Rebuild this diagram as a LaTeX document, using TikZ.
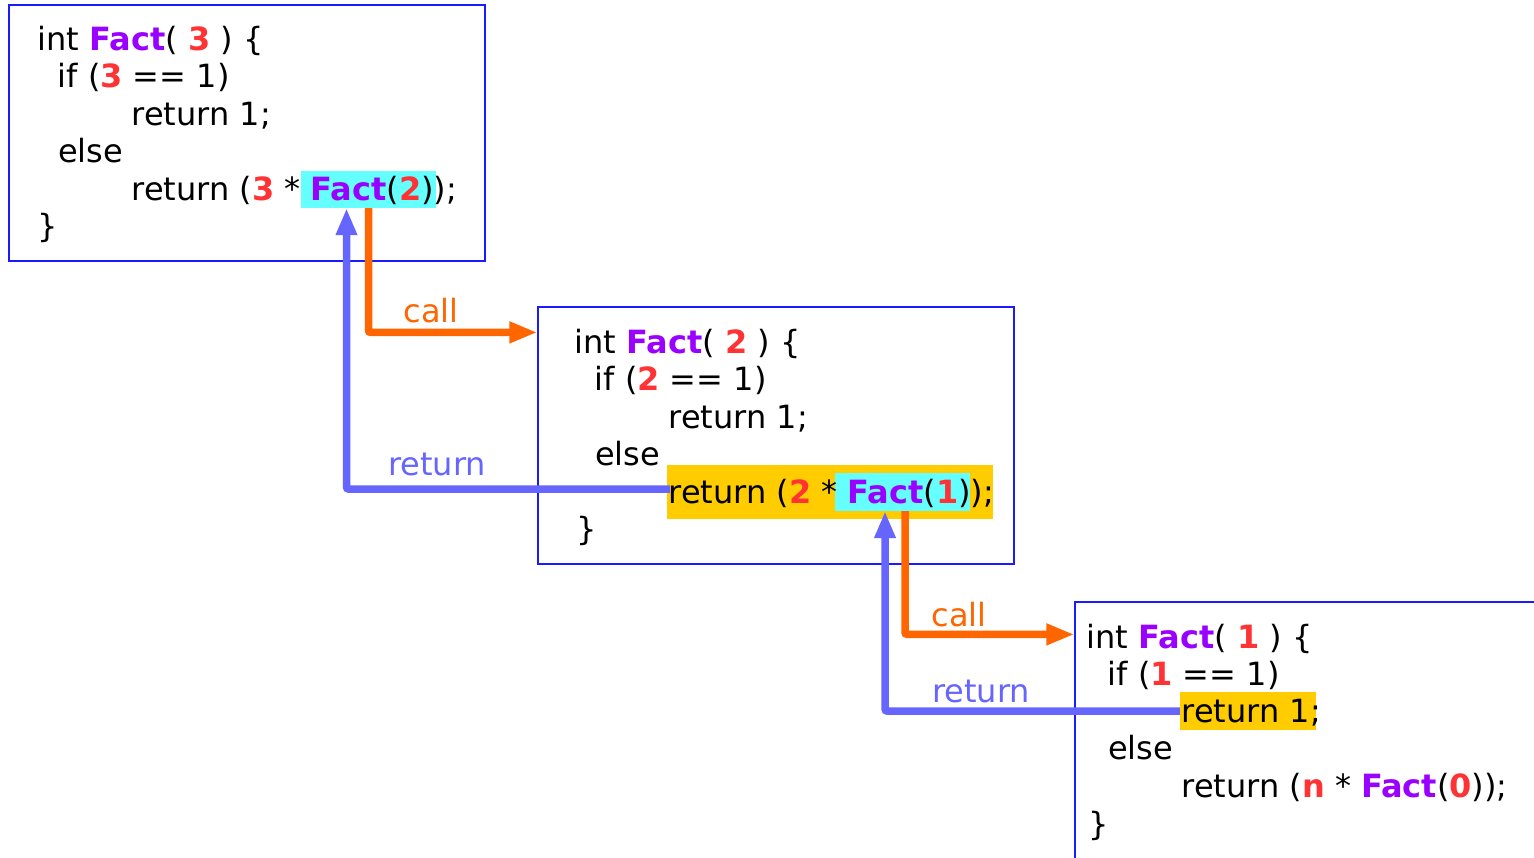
\documentclass[tikz,border=0pt]{standalone}
\usepackage{fontspec}
\setmainfont{DejaVu Sans}
\usetikzlibrary{arrows.meta}
\definecolor{fpurple}{HTML}{9900FF}
\definecolor{nred}{HTML}{FF3333}
\definecolor{hcyan}{HTML}{66FFFF}
\definecolor{hgold}{HTML}{FFCC00}
\definecolor{corange}{HTML}{FF6600}
\definecolor{rblue}{HTML}{6666FF}
\definecolor{bblue}{HTML}{1A1AFF}
\newcommand\fct{\textcolor{fpurple}{\textbf{Fact}}}
\newcommand\nmb[1]{\textcolor{nred}{\textbf{#1}}}
\begin{document}
\begin{tikzpicture}[x=1pt,y=-1pt,
  every node/.style={font=\fontsize{32}{37.5}\selectfont},
  box/.style={draw=bblue, line width=1.2pt, inner sep=0pt},
  code/.style={anchor=base west, inner sep=0pt},
  hlc/.style={fill=hcyan, inner sep=0pt},
  hlg/.style={fill=hgold, inner sep=0pt},
  callarrow/.style={draw=corange, line width=7.5pt, -{Triangle[length=28pt,width=20pt]}, rounded corners=2pt},
  retarrow/.style={draw=rblue, line width=7.5pt, -{Triangle[length=27pt,width=20pt]}, rounded corners=2pt},
  calllbl/.style={anchor=base, inner sep=0pt, text=corange},
  retlbl/.style={anchor=base, inner sep=0pt, text=rblue}]
\useasboundingbox (0,0) rectangle (1534,857);
\fill[white] (0,0) rectangle (1534,857);
% boxes
\node[box, minimum width=476pt, minimum height=256pt] (b1) at (247,133) {};
\node[box, minimum width=476pt, minimum height=257pt] (b2) at (776,435.5) {};
\node[box, minimum width=470pt, minimum height=270pt] (b3) at (1310,737) {};
% highlights
\node[hlc, minimum width=135pt, minimum height=37pt] (h1) at (368.5,189.5) {};
\node[hlg, minimum width=326pt, minimum height=54pt] (g2) at (830,492) {};
\node[hlc, minimum width=135pt, minimum height=38pt] (h2) at (902.5,492) {};
\node[hlg, minimum width=136pt, minimum height=38pt] (g3) at (1248,711) {};
% box 1 code
\node[code] (a1) at (37.5,50) {int \fct( \nmb{3} ) \{};
\node[code] (a2) at (57.5,87.5) {if (\nmb{3} == 1)};
\node[code] (a3) at (131.5,125) {return 1;};
\node[code] (a4) at (58,162.5) {else};
\node[code] (a5) at (131.5,200) {return (\nmb{3} * \fct(\nmb{2}));};
\node[code] (a6) at (37.5,237.5) {\}};
% box 2 code
\node[code] (c1) at (574.5,353) {int \fct( \nmb{2} ) \{};
\node[code] (c2) at (594.5,390.5) {if (\nmb{2} == 1)};
\node[code] (c3) at (668.5,428) {return 1;};
\node[code] (c4) at (595,465.5) {else};
\node[code] (c5) at (668.5,503) {return (\nmb{2} * \fct(\nmb{1}));};
\node[code] (c6) at (576.5,540.5) {\}};
% box 3 code
\node[code] (d1) at (1086.5,648) {int \fct( \nmb{1} ) \{};
\node[code] (d2) at (1107.5,685.5) {if (\nmb{1} == 1)};
\node[code] (d3) at (1181.5,722) {return 1;};
\node[code] (d4) at (1108,759.5) {else};
\node[code] (d5) at (1181.5,797.5) {return (\nmb{n} * \fct(\nmb{0}));};
\node[code] (d6) at (1088.5,835) {\}};
% connectors
\draw[callarrow] (h1.south) |- ([yshift=-26pt]b2.north west);
\draw[retarrow] ([xshift=3pt,yshift=3pt]g2.west) -| ([xshift=-22pt]h1.south);
\draw[callarrow] ([xshift=2.5pt]h2.south) |- ([yshift=-33pt]b3.north west);
\draw[retarrow] (g3.west) -| ([xshift=-17.5pt]h2.south);
% labels
\node[calllbl] (k1) at (431,322) {call};
\node[retlbl] (r1) at (437,475) {return};
\node[calllbl] (k2) at (959,626) {call};
\node[retlbl] (r2) at (981,702) {return};
\end{tikzpicture}
\end{document}
